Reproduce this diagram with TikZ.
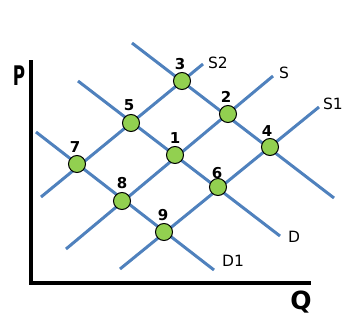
\documentclass[tikz,border=0pt]{standalone}
\usepackage{fontspec}
\usepackage{graphicx}
\newfontfamily\lblfont{DejaVu Sans}
\definecolor{lineblue}{HTML}{4F81BD}
\definecolor{ptgreen}{HTML}{92D050}
\begin{document}
\begin{tikzpicture}[x=1bp,y=-1bp,
  curve/.style={draw=lineblue,line width=3bp},
  axis/.style={draw=black,line width=3.2bp},
  pt/.style={circle,draw=black,line width=1bp,fill=ptgreen,minimum size=17bp,inner sep=0pt},
  num/.style={inner sep=0pt,font=\lblfont\bfseries\fontsize{15bp}{17bp}\selectfont},
  lbl/.style={inner sep=0pt,font=\lblfont\fontsize{15.5bp}{17bp}\selectfont},
  axlbl/.style={inner sep=0pt,font=\lblfont\bfseries\fontsize{26bp}{28bp}\selectfont}]
\useasboundingbox (0,0) rectangle (342,320);
% axes
\coordinate (ytop) at (31,60);
\coordinate (orig) at (31,283);
\coordinate (xend) at (311,283);
\draw[axis] (ytop) -- (orig) -- (xend);
\node[axlbl,font=\lblfont\bfseries\fontsize{27bp}{29bp}\selectfont] (P) at (19,76) {\scalebox{0.62}[1]{P}};
\node[axlbl,font=\lblfont\bfseries\fontsize{25bp}{27bp}\selectfont] (Q) at (301,302) {Q};
% demand lines
\coordinate (d2a) at (132,43);  \coordinate (d2b) at (334,198);
\coordinate (da) at (78,81);    \coordinate (db) at (280,236);
\coordinate (d1a) at (36,132);  \coordinate (d1b) at (214,270);
% supply lines
\coordinate (s2a) at (41,197);  \coordinate (s2b) at (203,64);
\coordinate (sa) at (66,249);   \coordinate (sb) at (273,76);
\coordinate (s1a) at (120,269); \coordinate (s1b) at (319,107);
\draw[curve] (d2a) -- (d2b);
\draw[curve] (da) -- (db);
\draw[curve] (d1a) -- (d1b);
\draw[curve] (s2a) -- (s2b);
\draw[curve] (sa) -- (sb);
\draw[curve] (s1a) -- (s1b);
% line labels
\node[lbl] (lS2) at (218,62.5) {S2};
\node[lbl] (lS) at (284,73) {S};
\node[lbl] (lS1) at (333,104) {S1};
\node[lbl] (lD) at (294,237) {D};
\node[lbl] (lD1) at (233,261) {D1};
% points
\node[pt] (p1) at (175,155) {};
\node[pt] (p2) at (228,114) {};
\node[pt] (p3) at (182,81) {};
\node[pt] (p4) at (270,147) {};
\node[pt] (p5) at (131,123) {};
\node[pt] (p6) at (218,187) {};
\node[pt] (p7) at (77,164) {};
\node[pt] (p8) at (122,201) {};
\node[pt] (p9) at (164,232) {};
% numbers
\node[num] (n1) at (175,138) {1};
\node[num] (n2) at (226,97) {2};
\node[num] (n3) at (180,64) {3};
\node[num] (n4) at (267,131) {4};
\node[num] (n5) at (129,105) {5};
\node[num] (n6) at (217,173) {6};
\node[num] (n7) at (75,147) {7};
\node[num] (n8) at (122,183) {8};
\node[num] (n9) at (163,215) {9};
\end{tikzpicture}
\end{document}
